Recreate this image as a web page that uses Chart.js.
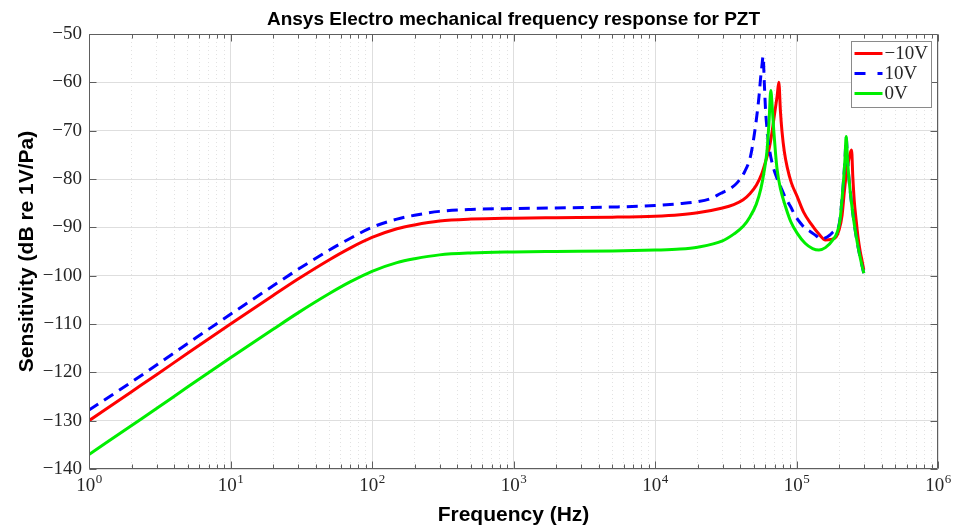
<!DOCTYPE html>
<html>
<head>
<meta charset="utf-8">
<script src="https://cdn.jsdelivr.net/npm/chart.js@4.4.1/dist/chart.umd.min.js"></script>
<style>
  html, body { margin: 0; padding: 0; background: #fff; }
  #wrap { width: 954px; height: 527px; position: relative; }
</style>
</head>
<body>
<div id="wrap"><canvas id="freqChart"></canvas></div>
<script>
// --- Data ---
const freqNeg10 = [1, 2, 3, 5, 10, 20, 30, 50, 70, 100, 150, 200, 300, 500, 1000, 2000, 5000, 10000, 15000, 20000,
  30000, 36000, 42000, 47000, 52000, 57000, 61000, 64000, 67000, 70000, 73000, 75000, 77000, 79000, 82000,
  86000, 92000, 101000, 112000, 126000, 145000, 160000, 175000, 190000, 200000, 210000, 218000, 226000,
  234000, 240000, 245000, 250000, 256000, 264000, 272000, 282000, 291000, 299000];
const sensNeg10 = [-130.0, -124.0, -120.5, -116.0, -110.0, -104.1, -100.7, -96.7, -94.3, -92.1, -90.3, -89.5, -88.7, -88.3, -88.1, -88.0, -87.9, -87.7, -87.4, -87.0,
  -86.0, -85.3, -84.3, -83.0, -81.3, -78.8, -76.0, -73.8, -70.5, -66.5, -62.8, -60.0, -66.0, -70.2, -74.3,
  -77.6, -80.8, -83.6, -86.8, -89.2, -91.5, -92.6, -92.5, -92.0, -90.5, -87.5, -82.5, -78.5,
  -76.0, -74.6, -74.0, -79.5, -84.5, -88.5, -92.0, -95.0, -97.0, -98.8];

const freqPos10 = [1, 2, 3, 5, 10, 20, 30, 50, 70, 100, 150, 200, 300, 500, 1000, 2000, 5000, 10000, 15000, 20000,
  25000, 29000, 34000, 38000, 43000, 47300, 50500, 52700, 54500, 55600, 57000, 58100, 59200, 60500, 62000,
  64500, 67300, 72000, 77000, 83000, 90700, 98000, 106600, 115000, 125600, 137000, 148000, 160000, 172000, 185000,
  194000, 203000, 210000, 216000, 220000, 224500, 229000, 234000, 241000, 248000, 258000, 269000, 283000, 299000];
const sensPos10 = [-127.8, -122.0, -118.5, -114.0, -108.0, -102.1, -98.7, -94.7, -92.3, -90.0, -88.3, -87.5, -86.7, -86.3, -86.1, -86.0, -85.8, -85.5, -85.1, -84.7,
  -84.0, -83.0, -82.0, -80.8, -78.5, -75.3, -70.5, -66.4, -62.5, -59.5, -56.5, -54.6, -60.0, -66.0, -69.8,
  -74.0, -76.7, -79.5, -81.5, -83.7, -85.7, -87.6, -89.1, -90.2, -90.9, -91.7, -92.4, -92.2, -91.6, -90.8,
  -90.6, -88.3, -84.0, -79.5, -76.0, -71.5, -75.5, -79.4, -83.2, -86.3, -90.0, -93.2, -96.5, -99.5];

const freqZero = [1, 2, 3, 5, 10, 20, 30, 50, 70, 100, 150, 200, 300, 500, 1000, 2000, 5000, 10000, 15000, 20000,
  30000, 36000, 42000, 47000, 52000, 56000, 59000, 62000, 64000, 65800, 67500, 69000, 71000, 73000, 77000,
  83600, 91000, 101000, 115000, 130000, 144000, 160000, 183000, 194000, 203000, 210000, 216000, 220000, 224500, 229000,
  234000, 241000, 248000, 258000, 269000, 283000, 299000];
const sensZero = [-137.0, -131.0, -127.5, -123.0, -117.0, -111.1, -107.7, -103.7, -101.3, -99.1, -97.3, -96.5, -95.7, -95.3, -95.1, -95.0, -94.9, -94.7, -94.5, -94.1,
  -92.8, -91.4, -89.8, -87.8, -85.2, -82.0, -78.5, -73.9, -68.0, -61.7, -65.5, -69.8, -74.5, -78.1, -82.0,
  -85.7, -88.8, -91.2, -93.3, -94.4, -94.7, -94.2, -92.4, -91.0, -88.5, -84.0, -79.5, -76.0, -71.2, -75.5,
  -79.4, -83.2, -86.3, -90.0, -93.2, -96.5, -99.5];

const seriesLabels = ['\u221210V', '10V', '0V'];
const seriesColors = ['#ff0000', '#0000ff', '#00ee00'];

const xDecades = [1, 10, 100, 1000, 10000, 100000, 1000000];
const xDecadeExp = ['0', '1', '2', '3', '4', '5', '6'];
const yTickValues = [-140, -130, -120, -110, -100, -90, -80, -70, -60, -50];

const chartTitle = 'Ansys Electro mechanical frequency response for PZT';
const xTitle = 'Frequency (Hz)';
const yTitle = 'Sensitivity (dB re 1V/Pa)';

// minor + major tick positions for the log axis
const xTickValues = [];
xDecades.forEach((d, i) => {
  if (i === xDecades.length - 1) { xTickValues.push(d); return; }
  for (let m = 1; m <= 9; m++) xTickValues.push(m * d);
});

function isDecade(v) {
  return xDecades.some(d => Math.abs(d - v) < d * 1e-6);
}

function toPoints(fs, vs) {
  return fs.map((f, i) => ({ x: f, y: vs[i] }));
}

const serif = '"Liberation Serif", "Times New Roman", serif';
const sans = '"Liberation Sans", Arial, sans-serif';

// Draws box, inward ticks, x tick labels, titles and the legend
const frameAndText = {
  id: 'frameAndText',
  afterDraw(chart) {
    const { ctx, chartArea: a, scales: { x, y } } = chart;
    const L = Math.round(a.left) + 0.5, R = Math.round(a.right) - 0.5;
    const T = Math.round(a.top) + 0.5, B = Math.round(a.bottom) - 0.5;
    ctx.save();

    ctx.strokeStyle = '#5e5e5e';
    ctx.lineWidth = 1;
    ctx.beginPath();
    ctx.rect(L, T, R - L, B - T);
    xTickValues.forEach(v => {
      const px = Math.round(x.getPixelForValue(v)) + 0.5;
      const len = isDecade(v) ? 7 : 4;
      ctx.moveTo(px, B); ctx.lineTo(px, B - len);
      ctx.moveTo(px, T); ctx.lineTo(px, T + len);
    });
    yTickValues.forEach(v => {
      const py = Math.round(y.getPixelForValue(v)) + 0.5;
      ctx.moveTo(L, py); ctx.lineTo(L + 7, py);
      ctx.moveTo(R, py); ctx.lineTo(R - 7, py);
    });
    ctx.stroke();

    // x tick labels 10^n
    ctx.fillStyle = '#262626';
    ctx.textBaseline = 'alphabetic';
    ctx.textAlign = 'left';
    xDecades.forEach((d, i) => {
      const px = x.getPixelForValue(d);
      ctx.font = '19px ' + serif;
      const w1 = ctx.measureText('10').width;
      ctx.font = '13px ' + serif;
      const w2 = ctx.measureText(xDecadeExp[i]).width;
      const x0 = px - (w1 + w2) / 2;
      ctx.font = '19px ' + serif;
      ctx.fillText('10', x0, a.bottom + 22);
      ctx.font = '13px ' + serif;
      ctx.fillText(xDecadeExp[i], x0 + w1 + 0.5, a.bottom + 14);
    });

    // titles
    ctx.fillStyle = '#000';
    ctx.textAlign = 'center';
    ctx.font = 'bold 19px ' + sans;
    ctx.fillText(chartTitle, (a.left + a.right) / 2, 25);
    ctx.font = 'bold 21px ' + sans;
    ctx.fillText(xTitle, (a.left + a.right) / 2, 521);
    ctx.save();
    ctx.translate(33, (a.top + a.bottom) / 2);
    ctx.rotate(-Math.PI / 2);
    ctx.fillText(yTitle, 0, 0);
    ctx.restore();

    // legend
    const bw = 80, bh = 66;
    const bx = Math.round(a.right) - 7 - bw + 0.5, by = Math.round(a.top) + 7.5;
    ctx.fillStyle = '#fff';
    ctx.fillRect(bx, by, bw, bh);
    ctx.strokeStyle = '#8a8a8a';
    ctx.lineWidth = 1;
    ctx.strokeRect(bx, by, bw, bh);
    chart.data.datasets.forEach((ds, i) => {
      const ry = by + 12 + i * 20;
      ctx.strokeStyle = ds.borderColor;
      ctx.lineWidth = 3;
      ctx.setLineDash(ds.borderDash && ds.borderDash.length ? [11, 12] : []);
      ctx.beginPath();
      ctx.moveTo(bx + 3, ry);
      ctx.lineTo(bx + 31, ry);
      ctx.stroke();
      ctx.setLineDash([]);
      ctx.fillStyle = '#262626';
      ctx.font = '19px ' + serif;
      ctx.textAlign = 'left';
      ctx.textBaseline = 'middle';
      ctx.fillText(ds.label, bx + 33, ry + 1);
    });
    ctx.restore();
  }
};

const canvas = document.getElementById('freqChart');

new Chart(canvas, {
  type: 'line',
  data: {
    datasets: [
      { label: seriesLabels[0], data: toPoints(freqNeg10, sensNeg10), borderColor: seriesColors[0], order: 3 },
      { label: seriesLabels[1], data: toPoints(freqPos10, sensPos10), borderColor: seriesColors[1], borderDash: [11, 7], order: 2 },
      { label: seriesLabels[2], data: toPoints(freqZero, sensZero), borderColor: seriesColors[2], order: 1 }
    ]
  },
  options: {
    animation: false,
    responsive: true,
    maintainAspectRatio: false,
    devicePixelRatio: 1,
    layout: { padding: { top: 34, right: 16, left: 0, bottom: 0 } },
    elements: {
      point: { radius: 0 },
      line: { borderWidth: 3, fill: false, cubicInterpolationMode: 'monotone' }
    },
    plugins: {
      legend: { display: false },
      title: { display: false },
      tooltip: { enabled: false }
    },
    scales: {
      x: {
        type: 'logarithmic',
        min: 1,
        max: 1000000,
        afterBuildTicks: s => { s.ticks = xTickValues.map(v => ({ value: v })); },
        afterFit: s => { s.height = 58; },
        ticks: { display: false },
        grid: {
          drawTicks: false,
          color: c => (c.tick && isDecade(c.tick.value)) ? '#dedede' : '#e2e2e2',
          lineWidth: 1
        },
        border: {
          display: false,
          dash: c => (c.tick && isDecade(c.tick.value)) ? [] : [1, 3]
        }
      },
      y: {
        min: -140,
        max: -50,
        afterBuildTicks: s => { s.ticks = yTickValues.map(v => ({ value: v })); },
        afterFit: s => { s.width = 89; },
        ticks: {
          padding: 7,
          color: '#262626',
          font: { family: serif, size: 19 },
          callback: v => v < 0 ? '\u2212' + Math.abs(v) : String(v)
        },
        grid: { drawTicks: false, color: '#dedede', lineWidth: 1 },
        border: { display: false }
      }
    }
  },
  plugins: [frameAndText]
});
</script>
</body>
</html>
